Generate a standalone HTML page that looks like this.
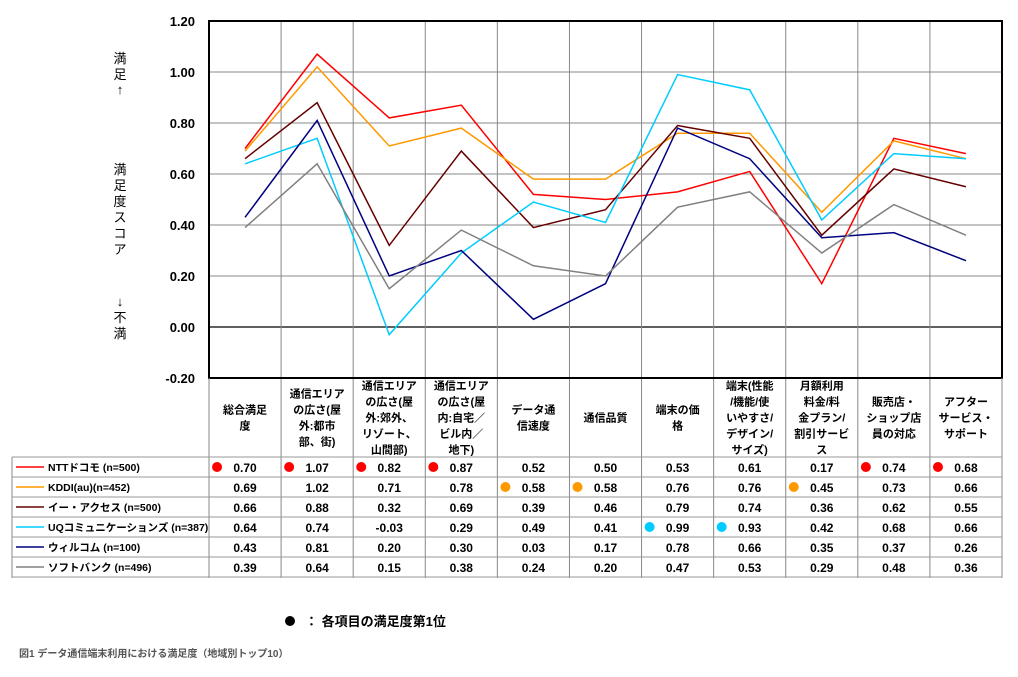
<!DOCTYPE html>
<html><head><meta charset="utf-8"><style>
body{margin:0;background:#fff;width:1018px;height:672px;overflow:hidden;font-family:"Liberation Sans","Noto Sans CJK JP",sans-serif}
</style></head><body>
<svg id="c" width="1018" height="672" xmlns="http://www.w3.org/2000/svg" font-family="Liberation Sans, Noto Sans CJK JP, sans-serif"></svg>
<script>
const categories=["総合満足|度","通信エリア|の広さ(屋|外:都市|部、街)","通信エリア|の広さ(屋|外:郊外、|リゾート、|山間部)","通信エリア|の広さ(屋|内:自宅／|ビル内／|地下)","データ通|信速度","通信品質","端末の価|格","端末(性能|/機能/使|いやすさ/|デザイン/|サイズ)","月額利用|料金/料|金プラン/|割引サービ|ス","販売店・|ショップ店|員の対応","アフター|サービス・|サポート"];
const seriesNames=["NTTドコモ (n=500)","KDDI(au)(n=452)","イー・アクセス (n=500)","UQコミュニケーションズ (n=387)","ウィルコム (n=100)","ソフトバンク (n=496)"];
const seriesColors=["#ff0000","#ff9900","#660000","#00ccff","#000080","#808080"];
const docomo=[0.70,1.07,0.82,0.87,0.52,0.50,0.53,0.61,0.17,0.74,0.68];
const kddi=[0.69,1.02,0.71,0.78,0.58,0.58,0.76,0.76,0.45,0.73,0.66];
const eaccess=[0.66,0.88,0.32,0.69,0.39,0.46,0.79,0.74,0.36,0.62,0.55];
const uq=[0.64,0.74,-0.03,0.29,0.49,0.41,0.99,0.93,0.42,0.68,0.66];
const willcom=[0.43,0.81,0.20,0.30,0.03,0.17,0.78,0.66,0.35,0.37,0.26];
const softbank=[0.39,0.64,0.15,0.38,0.24,0.20,0.47,0.53,0.29,0.48,0.36];
const yTicks=["1.20","1.00","0.80","0.60","0.40","0.20","0.00","-0.20"];
const seriesData=[docomo,kddi,eaccess,uq,willcom,softbank];
const NS="http://www.w3.org/2000/svg";
const svg=document.getElementById('c');
const L=209,R=1002,T=21,B=378,ymin=-0.2,ymax=1.2;
const cw=(R-L)/categories.length;
const y=v=>B-(v-ymin)/(ymax-ymin)*(B-T);
const x=i=>L+cw*(i+0.5);
function el(t,a,txt){const e=document.createElementNS(NS,t);for(const k in a)e.setAttribute(k,a[k]);if(txt!==undefined)e.textContent=txt;svg.appendChild(e);return e;}
yTicks.forEach(t=>{const v=parseFloat(t);
const g=el('line',{x1:L,x2:R,y1:y(v),y2:y(v),stroke:v===0?'#000':'#888','stroke-width':v===0?1.2:1});

const lb=el('text',{x:195,y:y(v)+5,'text-anchor':'end','font-size':13,'font-weight':'bold'},t);
});
for(let i=1;i<categories.length;i++){const g=el('line',{x1:L+cw*i,x2:L+cw*i,y1:T,y2:578,stroke:'#888'});
}
const fr=el('rect',{x:L,y:T,width:R-L,height:B-T,fill:'none',stroke:'#000','stroke-width':2});

[["満",63],["足",79],["↑",94],["満",174],["足",190],["度",206],["ス",222],["コ",238],["ア",254],["↓",306],["不",322],["満",338]].forEach(([c,yy])=>{
const t=el('text',{x:120,y:yy,'text-anchor':'middle','font-size':13},c);});
seriesData.forEach((d,s)=>{const p=el('polyline',{points:d.map((v,i)=>x(i)+','+y(v)).join(' '),fill:'none',stroke:seriesColors[s],'stroke-width':1.5});
});
const rowTop=457,rh=20;
const tb=el('line',{x1:L,x2:L,y1:B,y2:578,stroke:'#888'});
const tr=el('line',{x1:R,x2:R,y1:B,y2:578,stroke:'#888'});
const tl=el('line',{x1:12,x2:12,y1:rowTop,y2:578,stroke:'#888'});
for(let r=0;r<=6;r++){const l=el('line',{x1:12,x2:R,y1:rowTop+r*rh,y2:rowTop+r*rh,stroke:'#999'});}
categories.forEach((c,i)=>{const ls=c.split('|');const h=ls.length*16;const y0=(B+rowTop)/2-h/2+12;
ls.forEach((s,k)=>{const t=el('text',{x:x(i),y:y0+k*16,'text-anchor':'middle','font-size':11,'font-weight':'bold'},s);});});
seriesData.forEach((d,s)=>{const cy=rowTop+s*rh+rh/2;
const ll=el('line',{x1:16,x2:44,y1:cy,y2:cy,stroke:seriesColors[s],'stroke-width':1.5});
const lt=el('text',{x:48,y:cy+4,'font-size':10.5,'font-weight':'bold'},seriesNames[s]);
d.forEach((v,i)=>{const mx=Math.max(...seriesData.map(a=>a[i]));
if(v===mx&&!(s>0&&seriesData.slice(0,s).some(a=>a[i]===mx))){const dt=el('circle',{cx:x(i)-28,cy:cy,r:5,fill:seriesColors[s]});}
const t=el('text',{x:x(i),y:cy+5,'text-anchor':'middle','font-size':12,'font-weight':'bold'},v.toFixed(2));});});
const n1=el('circle',{cx:290,cy:621,r:5,fill:'#000'});
const n2=el('text',{x:305,y:626,'font-size':13,'font-weight':'bold'},"：  各項目の満足度第1位");
const cap=el('text',{x:19,y:657,'font-size':10,'font-weight':'bold',fill:'#555'},"図1  データ通信端末利用における満足度（地域別トップ10）");
</script>
</body></html>
